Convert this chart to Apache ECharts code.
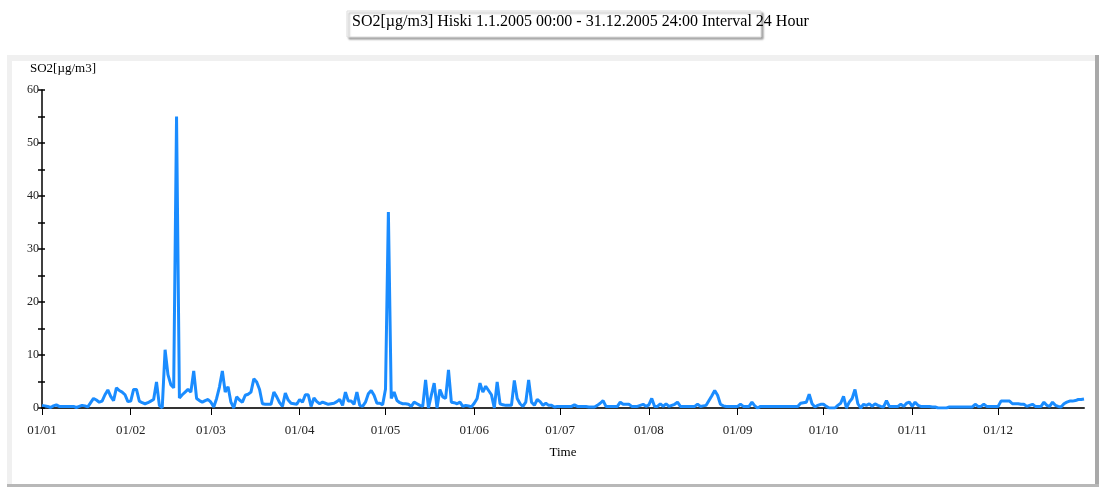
<!DOCTYPE html>
<html>
<head>
<meta charset="utf-8">
<title>SO2 Hiski 2005</title>
<script src="https://cdn.jsdelivr.net/npm/echarts@6/dist/echarts.min.js"></script>
<style>
  html, body { margin: 0; padding: 0; background: #fff; }
  #chart { width: 1100px; height: 487px; }
</style>
</head>
<body>
<div id="chart"></div>
<script>
// daily SO2 means (µg/m3)
const jan = [0.5, 0.4, 0.3, 0.1, 0.4, 0.6, 0.3, 0.3, 0.3, 0.3, 0.3, 0.3, 0.1, 0.3, 0.5, 0.4, 0.2, 1.0, 1.8, 1.5, 1.1, 1.3, 2.5, 3.4, 2.2, 1.4, 3.8, 3.3, 3.0, 2.5, 1.2];
const feb = [1.3, 3.5, 3.5, 1.3, 1.0, 0.8, 1.0, 1.3, 1.6, 4.9, 0.5, 0, 11, 6.3, 4.4, 3.8, 55, 1.9, 2.5, 3.0, 3.5, 3.0, 7.0, 1.8, 1.4, 1.1, 1.4, 1.6];
const mar = [1.1, 0.2, 1.8, 4.0, 7.0, 3.0, 4.0, 1.1, 0, 2.1, 1.5, 1.1, 2.4, 2.6, 3.0, 5.5, 4.9, 3.5, 0.8, 0.7, 0.7, 0.7, 3.0, 2.1, 1.0, 0.3, 2.8, 1.5, 0.9, 0.8, 0.7];
const apr = [1.6, 1.1, 2.5, 2.5, 0.3, 1.9, 1.2, 0.8, 1.1, 0.9, 0.7, 0.8, 0.9, 1.2, 1.6, 0.5, 3.0, 1.3, 1.3, 0.7, 3.0, 0.5, 0.3, 1.1, 2.7, 3.3, 2.4, 0.9, 0.9, 0.6];
const may = [3.6, 37, 1.8, 3.0, 1.4, 1.0, 0.8, 0.8, 0.7, 0.3, 1.1, 0.8, 0.5, 0.3, 5.3, 0, 2.4, 4.7, 0, 3.5, 2.1, 1.8, 7.2, 1.1, 1.0, 0.8, 1.1, 0.3, 0.5, 0.4, 0.2];
const jun = [0.9, 1.8, 4.7, 3.0, 4.1, 3.3, 2.5, 0, 4.9, 0.8, 0.6, 0.5, 0.5, 0.5, 5.2, 1.8, 0.8, 0.3, 1.1, 5.3, 1.1, 0.5, 1.6, 1.2, 0.5, 0.9, 0.5, 0.5, 0.2, 0.3];
const jul = [0.3, 0.3, 0.3, 0.3, 0.3, 0.6, 0.3, 0.3, 0.3, 0.3, 0.2, 0.2, 0.2, 0.5, 0.9, 1.4, 0.3, 0.3, 0.3, 0.3, 0.3, 1.1, 0.7, 0.7, 0.7, 0.3, 0.3, 0.3, 0.5, 0.7, 0.3];
const aug = [0.6, 1.8, 0.3, 0.3, 0.8, 0.3, 0.8, 0.3, 0.5, 0.7, 1.1, 0.3, 0.3, 0.3, 0.3, 0.3, 0.3, 0.7, 0.3, 0.4, 0.5, 1.4, 2.3, 3.3, 2.4, 0.7, 0.4, 0.3, 0.3, 0.3, 0.3];
const sep = [0.3, 0.7, 0.3, 0.3, 0.3, 1.1, 0.4, 0, 0.3, 0.3, 0.3, 0.3, 0.3, 0.3, 0.3, 0.3, 0.3, 0.3, 0.3, 0.3, 0.3, 0.3, 0.9, 1.0, 1.1, 2.6, 0.8, 0.2, 0.5, 0.7];
const oct = [0.7, 0.3, 0, 0, 0, 0.5, 0.9, 2.2, 0, 1.1, 1.8, 3.5, 0.8, 0, 0.7, 0.5, 0.8, 0.3, 0.8, 0.5, 0.3, 0.2, 1.4, 0.3, 0.3, 0.3, 0.3, 0.7, 0.3, 0.9, 1.1];
const nov = [0.3, 1.1, 0.5, 0.3, 0.3, 0.3, 0.3, 0.2, 0.2, 0, 0, 0, 0, 0.2, 0.2, 0.2, 0.2, 0.2, 0.2, 0.2, 0.2, 0.2, 0.7, 0.3, 0.3, 0.7, 0.3, 0.3, 0.3, 0.3];
const dec = [0.3, 1.3, 1.3, 1.3, 1.3, 0.8, 0.8, 0.8, 0.7, 0.7, 0.3, 0.5, 0.7, 0.3, 0.3, 0.3, 1.1, 0.5, 0.3, 1.1, 0.5, 0.3, 0.2, 0.8, 1.1, 1.3, 1.3, 1.4, 1.6, 1.6, 1.7];

const yTicks = [0, 10, 20, 30, 40, 50, 60];
const titleText = 'SO2[µg/m3] Hiski 1.1.2005 00:00 - 31.12.2005 24:00 Interval 24 Hour';

const values = [].concat(jan, feb, mar, apr, may, jun, jul, aug, sep, oct, nov, dec);

// one category per day, labelled dd/mm
const days = [];
for (let i = 0; i < values.length; i++) {
  const d = new Date(Date.UTC(2005, 0, 1) + i * 864e5);
  days.push(String(d.getUTCDate()).padStart(2, '0') + '/' + String(d.getUTCMonth() + 1).padStart(2, '0'));
}
const monthStart = (idx, val) => val.slice(0, 2) === '01';

const serif = '"Liberation Serif", "DejaVu Serif", serif';

let chart = echarts.init(document.getElementById('chart'));
chart.setOption({
  animation: false,
  backgroundColor: '#fff',
  graphic: [
    // panel: light bevel top/left, darker edge right/bottom
    {type: 'rect', silent: true, z: -10, shape: {x: 7, y: 55, width: 1092, height: 432}, style: {fill: '#f0f0f0'}},
    {type: 'rect', silent: true, z: -9, shape: {x: 1095, y: 55, width: 4, height: 432}, style: {fill: '#a9a9a9'}},
    {type: 'rect', silent: true, z: -9, shape: {x: 7, y: 484, width: 1092, height: 3}, style: {fill: '#b8b8b8'}},
    {type: 'rect', silent: true, z: -8, shape: {x: 12, y: 61, width: 1083, height: 423}, style: {fill: '#fff'}},
    // title box
    {
      type: 'rect', silent: true, z: 10,
      shape: {x: 347, y: 11, width: 414, height: 26},
      style: {fill: '#fff', stroke: '#ddd', lineWidth: 1, shadowBlur: 2, shadowColor: 'rgba(0,0,0,0.35)', shadowOffsetX: 2, shadowOffsetY: 2}
    },
    {
      type: 'text', silent: true, z: 11, left: 352, top: 14,
      style: {text: titleText, font: '16px ' + serif, fill: '#000'}
    }
  ],
  grid: {left: 42, right: 16, top: 90, bottom: 79},
  xAxis: {
    type: 'category',
    data: days,
    boundaryGap: false,
    name: 'Time',
    nameLocation: 'middle',
    nameGap: 38,
    nameTextStyle: {fontFamily: serif, fontSize: 13, color: '#000'},
    axisLine: {lineStyle: {color: '#333', width: 2}},
    axisTick: {interval: monthStart, length: 7, lineStyle: {color: '#000', width: 1}},
    axisLabel: {interval: monthStart, margin: 16, fontFamily: serif, fontSize: 13, color: '#222'},
    splitLine: {show: false}
  },
  yAxis: [
    {
      type: 'value', min: 0, max: 60, interval: 5,
      name: 'SO2[µg/m3]',
      nameLocation: 'end',
      nameGap: 15,
      nameTextStyle: {fontFamily: serif, fontSize: 13, color: '#000', align: 'left', padding: [0, 0, 0, -12]},
      axisLine: {show: true, lineStyle: {color: '#000', width: 1.5}},
      axisTick: {show: true, length: 4, lineStyle: {color: '#000', width: 1.5}},
      axisLabel: {
        margin: 3, fontFamily: serif, fontSize: 12, color: '#222',
        formatter: v => yTicks.indexOf(v) >= 0 ? String(v) : ''
      },
      splitLine: {show: false}
    },
    {
      type: 'value', min: 0, max: 60, interval: 5, position: 'left',
      axisLine: {show: false},
      axisTick: {show: true, inside: true, length: 3, lineStyle: {color: '#000', width: 1.5}},
      axisLabel: {show: false},
      splitLine: {show: false}
    }
  ],
  series: [{
    type: 'line',
    data: values,
    showSymbol: false,
    symbol: 'none',
    lineStyle: {color: '#1a8cff', width: 3},
    itemStyle: {color: '#1a8cff'}
  }]
});
</script>
</body>
</html>
